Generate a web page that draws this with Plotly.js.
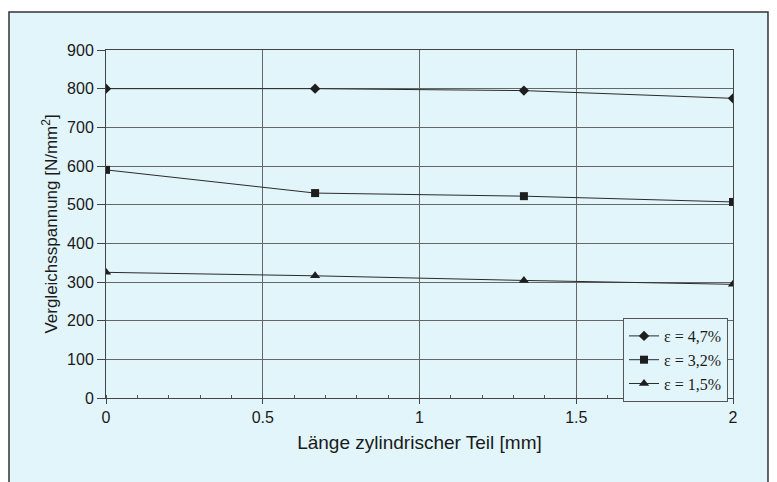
<!DOCTYPE html>
<html>
<head>
<meta charset="utf-8">
<script src="https://cdn.plot.ly/plotly-3.0.1.min.js"></script>
<style>html,body{margin:0;padding:0;background:#fff;}#chart{width:777px;height:482px;}</style>
</head>
<body>
<div id="chart"></div>
<script>
const laenge = [0, 0.667, 1.333, 2];
const eps47 = [800, 800, 795, 775];
const eps32 = [590, 530, 522, 507];
const eps15 = [325, 316, 304, 294];
const seriesNames = ['ε = 4,7%', 'ε = 3,2%', 'ε = 1,5%'];
const yTicks = [0, 100, 200, 300, 400, 500, 600, 700, 800, 900];
const xTicks = [0, 0.5, 1, 1.5, 2];

const lineCol = '#2a2a2a';
function tr(y, name, sym, size) {
  return {
    x: laenge, y: y, name: name, type: 'scatter', mode: 'lines+markers',
    line: {color: lineCol, width: 1},
    marker: {symbol: sym, size: size, color: '#1e1e1e'}
  };
}
const data = [
  tr(eps47, seriesNames[0], 'diamond', 8),
  tr(eps32, seriesNames[1], 'square', 8),
  tr(eps15, seriesNames[2], 'triangle-up', 9)
];
const bg = '#e2f5fa';
const layout = {
  width: 777, height: 482,
  margin: {l: 106, r: 44, t: 50, b: 84},
  paper_bgcolor: '#ffffff',
  plot_bgcolor: 'rgba(0,0,0,0)',
  font: {family: 'Liberation Sans, Arial, sans-serif', size: 16, color: '#1a1a1a'},
  showlegend: true,
  legend: {
    x: 0.8246, y: 0.2299, xanchor: 'left', yanchor: 'top',
    bgcolor: bg, bordercolor: '#555', borderwidth: 1,
    font: {family: 'Liberation Serif, Times New Roman, serif', size: 16, color: '#1a1a1a'},
    tracegroupgap: 0, itemwidth: 30
  },
  xaxis: {
    range: [0, 2], tickvals: xTicks, ticktext: ['0', '0.5', '1', '1.5', '2'],
    showgrid: true, gridcolor: '#666', gridwidth: 1,
    showline: true, linecolor: '#444', linewidth: 1, mirror: true,
    ticks: 'outside', ticklen: 5, tickcolor: '#444',
    minor: {dtick: 0.1, ticks: 'inside', ticklen: 3, tickcolor: '#555', showgrid: false},
    zeroline: false,
    tickfont: {size: 16},
    title: {text: 'Länge zylindrischer Teil [mm]', font: {size: 19}, standoff: 10}
  },
  yaxis: {
    range: [0, 900], tickvals: yTicks,
    showgrid: true, gridcolor: '#666', gridwidth: 1,
    showline: true, linecolor: '#444', linewidth: 1, mirror: true,
    ticks: 'outside', ticklen: 8, tickcolor: '#444',
    zeroline: false,
    tickfont: {size: 16},
    title: {text: 'Vergleichsspannung [N/mm<sup>2</sup>]', font: {size: 17}, standoff: 5}
  },
  shapes: [{
    type: 'rect', xref: 'paper', yref: 'paper', layer: 'below',
    x0: -0.1547, x1: 1.0558, y0: -0.4, y1: 1.109,
    fillcolor: bg, line: {color: '#333', width: 1.5}
  }]
};
Plotly.newPlot('chart', data, layout, {displayModeBar: false, staticPlot: true});
</script>
</body>
</html>
